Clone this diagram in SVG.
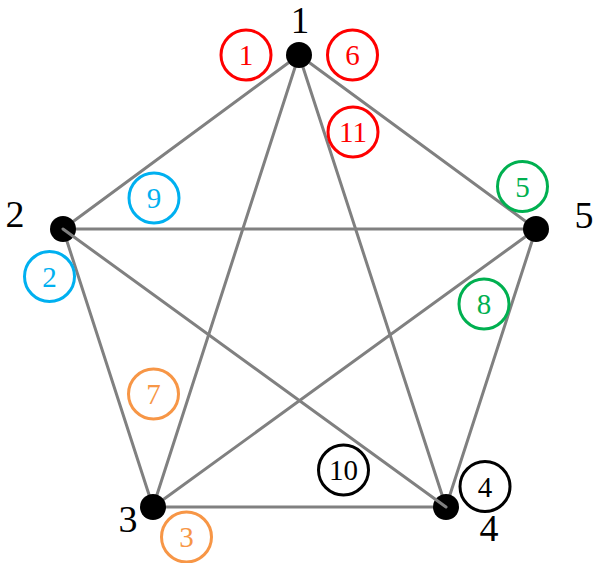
<svg xmlns="http://www.w3.org/2000/svg" width="594" height="563" viewBox="0 0 594 563">
<style>
.e{stroke:#808080;stroke-width:3;fill:none;stroke-linecap:round}
.v{fill:#000}
.lab{font-family:"Liberation Serif",serif;font-size:38px;fill:#000;text-anchor:middle}
.c{fill:#fff;stroke-width:3}
.ct{font-family:"Liberation Serif",serif;font-size:29px;text-anchor:middle;dominant-baseline:central}
.red{stroke:#FF0000}.redt{fill:#FF0000}
.blue{stroke:#00B0F0}.bluet{fill:#00B0F0}
.green{stroke:#00B050}.greent{fill:#00B050}
.orange{stroke:#F79646}.oranget{fill:#F79646}
.blk{stroke:#000}.blkt{fill:#000}
</style>
<rect width="594" height="563" fill="#fff"/>
<g id="edges">
<line class="e" x1="299" y1="55" x2="63" y2="229"/>
<line class="e" x1="299" y1="55" x2="536" y2="229"/>
<line class="e" x1="299" y1="55" x2="153" y2="507"/>
<line class="e" x1="299" y1="55" x2="446" y2="507"/>
<line class="e" x1="63" y1="229" x2="536" y2="229"/>
<line class="e" x1="63" y1="229" x2="153" y2="507"/>
<line class="e" x1="536" y1="229" x2="153" y2="507"/>
<line class="e" x1="536" y1="229" x2="446" y2="507"/>
<line class="e" x1="153" y1="507" x2="446" y2="507"/>
</g>
<g id="node1"><circle class="v" cx="299" cy="55" r="13"/><text class="lab" x="300" y="33" style="font-size:37px">1</text></g>
<g id="node2"><circle class="v" cx="63" cy="229" r="13"/><text class="lab" x="15" y="227">2</text></g>
<g id="node3"><circle class="v" cx="153" cy="507" r="13"/><text class="lab" x="128" y="532">3</text></g>
<g id="node4"><circle class="v" cx="446" cy="507" r="13"/><text class="lab" x="489" y="541">4</text></g>
<g id="node5"><circle class="v" cx="536" cy="229" r="13"/><text class="lab" x="584" y="228">5</text></g>
<g id="edge24"><line class="e" x1="63" y1="229" x2="446" y2="507"/></g>
<g id="m1"><circle class="c red" cx="246" cy="55" r="25"/><text class="ct redt" x="246" y="55">1</text></g>
<g id="m6"><circle class="c red" cx="352.5" cy="55" r="25"/><text class="ct redt" x="352.5" y="55">6</text></g>
<g id="m11"><circle class="c red" cx="353" cy="132" r="25"/><text class="ct redt" x="353" y="132">11</text></g>
<g id="m9"><circle class="c blue" cx="154" cy="198" r="25"/><text class="ct bluet" x="154" y="198">9</text></g>
<g id="m2"><circle class="c blue" cx="49.5" cy="276.5" r="25"/><text class="ct bluet" x="49.5" y="276.5">2</text></g>
<g id="m5"><circle class="c green" cx="522.5" cy="186.5" r="25"/><text class="ct greent" x="522.5" y="186.5">5</text></g>
<g id="m8"><circle class="c green" cx="484" cy="304" r="25"/><text class="ct greent" x="484" y="304">8</text></g>
<g id="m7"><circle class="c orange" cx="153.5" cy="394" r="25"/><text class="ct oranget" x="153.5" y="394">7</text></g>
<g id="m3"><circle class="c orange" cx="186.5" cy="537" r="25"/><text class="ct oranget" x="186.5" y="537">3</text></g>
<g id="m10"><circle class="c blk" cx="343.5" cy="470" r="25"/><text class="ct blkt" x="343.5" y="470">10</text></g>
<g id="m4"><circle class="c blk" cx="485" cy="486.5" r="25"/><text class="ct blkt" x="485" y="486.5">4</text></g>
</svg>
